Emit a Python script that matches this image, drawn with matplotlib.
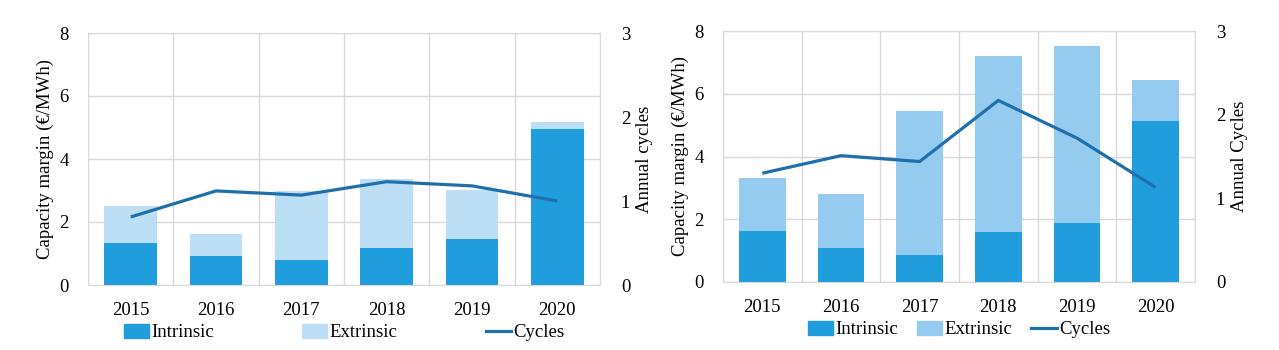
import matplotlib.pyplot as plt
import numpy as np
from matplotlib.patches import Patch
from matplotlib.lines import Line2D

plt.rcParams['font.family'] = ['Liberation Serif', 'DejaVu Serif']
plt.rcParams['font.size'] = 13.5

years = ['2015', '2016', '2017', '2018', '2019', '2020']

# left panel
intrinsic_a = [1.33, 0.92, 0.79, 1.18, 1.46, 4.96]
total_a = [2.51, 1.62, 2.97, 3.37, 3.02, 5.17]
cycles_a = [0.81, 1.12, 1.07, 1.23, 1.18, 1.00]

# right panel
intrinsic_b = [1.63, 1.09, 0.87, 1.60, 1.89, 5.13]
total_b = [3.30, 2.81, 5.44, 7.19, 7.51, 6.43]
cycles_b = [1.30, 1.51, 1.44, 2.17, 1.72, 1.13]

c_intr = '#1f9ddc'
c_line = '#1f6fad'
c_grid = '#d9d9d9'

fig = plt.figure(figsize=(12.79, 3.5), dpi=100)
W, H = 1279, 350


def panel(rect, intr, total, cyc, ext_col, ylab2, width, legend_spacing):
    ax = fig.add_axes(rect)
    x = np.arange(len(years))
    extr = np.array(total) - np.array(intr)
    ax.bar(x, intr, width, color=c_intr, zorder=2)
    ax.bar(x, extr, width, bottom=intr, color=ext_col, zorder=2)
    ax.set_xlim(-0.5, 5.5)
    ax.set_ylim(0, 8)
    ax.set_yticks([0, 2, 4, 6, 8])
    ax.set_xticks(x)
    ax.set_xticklabels(years)
    ax.set_xticks(np.arange(-0.5, 6, 1), minor=True)
    ax.grid(axis='y', color=c_grid, lw=1)
    ax.grid(axis='x', which='minor', color=c_grid, lw=1)
    ax.set_axisbelow(True)
    ax.tick_params(length=0, which='both')
    ax.tick_params(axis='x', pad=12)
    ax.tick_params(axis='y', pad=14)
    for s in ax.spines.values():
        s.set_color(c_grid)
    ax.set_ylabel('Capacity margin (€/MWh)', labelpad=4)

    ax2 = ax.twinx()
    ax2.plot(x, cyc, color=c_line, lw=2.3, solid_capstyle='butt')
    ax2.set_ylim(0, 3)
    ax2.set_yticks([0, 1, 2, 3])
    ax2.tick_params(length=0, pad=15)
    for s in ax2.spines.values():
        s.set_visible(False)
    ax2.set_ylabel(ylab2, labelpad=4)

    handles = [Patch(color=c_intr), Patch(color=ext_col),
               Line2D([0], [0], color=c_line, lw=2.3)]
    ax.legend(handles, ['Intrinsic', 'Extrinsic', 'Cycles'], ncol=3,
              loc='upper center', bbox_to_anchor=(0.5, -0.125), frameon=False,
              handlelength=1.35, handleheight=0.75, handletextpad=0.12,
              columnspacing=legend_spacing, borderaxespad=0)
    return ax


panel([88 / W, 1 - 285 / H, 512 / W, 252 / H], intrinsic_a, total_a, cycles_a,
      '#bddff5', 'Annual cycles', 0.62, 4.7)
panel([723 / W, 1 - 282 / H, 472 / W, 251 / H], intrinsic_b, total_b, cycles_b,
      '#95cbee', 'Annual Cycles', 0.59, 1.0)

fig.savefig('out.png', dpi=100)
